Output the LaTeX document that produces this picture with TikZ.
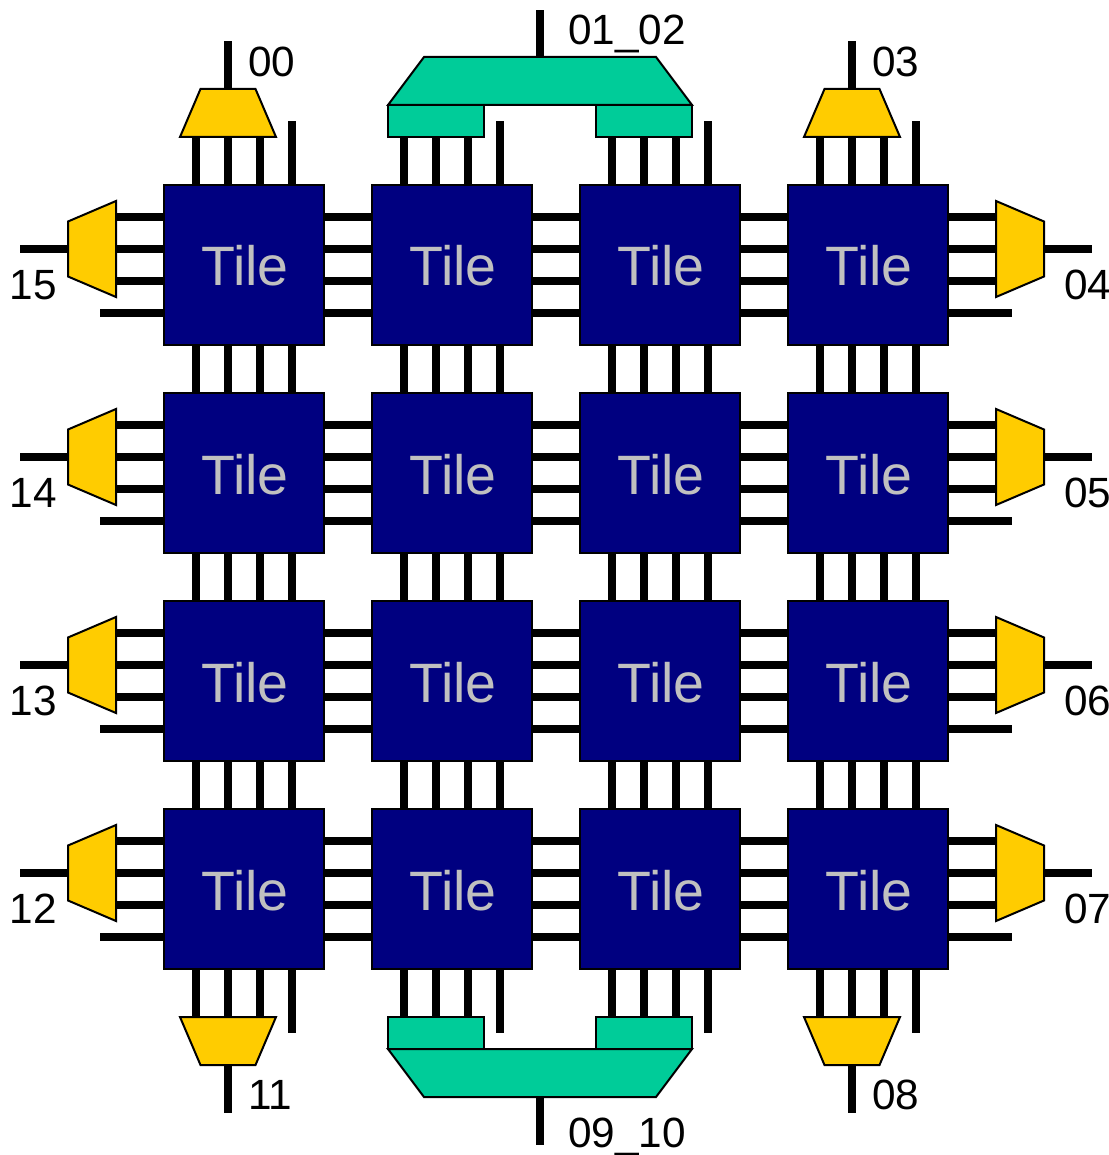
\documentclass[tikz,border=0pt]{standalone}
\usepackage{fontspec}
\setmainfont{Liberation Sans}
\usetikzlibrary{calc}
\definecolor{tilenavy}{HTML}{000080}
\definecolor{tilegray}{HTML}{C0C0C0}
\definecolor{muxyellow}{HTML}{FFCC00}
\definecolor{muxteal}{HTML}{00CC99}
\tikzset{
  tilebox/.style={draw=black,fill=tilenavy,line width=2pt,minimum size=160pt,inner sep=0pt,outer sep=0pt,text=tilegray,text height=42pt,text depth=0pt,font=\fontsize{55.5}{55.5}\selectfont},
  yellowmux/.style={draw=black,fill=muxyellow,line width=2pt,line join=miter},
  tealmux/.style={draw=black,fill=muxteal,line width=2pt,line join=miter},
  tealbox/.style={rectangle,draw=black,fill=muxteal,line width=2pt,minimum width=96pt,minimum height=32pt,inner sep=0pt,outer sep=0pt},
  wire/.style={line width=8pt,line cap=butt,draw=black},
  lab/.style={anchor=base west,inner sep=0pt,outer sep=0pt,font=\fontsize{42.3}{42.3}\selectfont}
}
% #1 scope options, #2 name: yellow multiplexer, wide side local south
\newcommand{\yellowmuxat}[2]{%
  \begin{scope}[#1]
    \path[yellowmux] (-48,-24) -- (48,-24) -- (27.5,24) -- (-27.5,24) -- cycle;
    \coordinate (#2-wide) at (0,-24);
    \coordinate (#2-narrow) at (0,24);
  \end{scope}}
\newcommand{\tealmuxat}[2]{%
  \begin{scope}[#1]
    \path[tealmux] (-152,-24) -- (152,-24) -- (116,24) -- (-116,24) -- cycle;
    \coordinate (#2-narrow) at (0,24);
  \end{scope}}
\begin{document}
\begin{tikzpicture}[x=1pt,y=1pt]
\useasboundingbox (0,0) rectangle (1108,-1155);
% tiles
\foreach \r in {0,1,2,3}{\foreach \c in {0,1,2,3}{
  \node[tilebox] (t\r\c) at ({244+208*\c},{-265-208*\r}) {\kern2pt Tile};
}}
% side multiplexers
\foreach \r in {0,1,2,3}{
  \yellowmuxat{shift={(92,{-249-208*\r})},rotate=90}{left\r}
  \yellowmuxat{shift={(1020,{-249-208*\r})},rotate=-90}{right\r}
}
% top / bottom multiplexers
\yellowmuxat{shift={(228,-113)}}{top0}
\yellowmuxat{shift={(852,-113)}}{top3}
\yellowmuxat{shift={(228,-1041)},rotate=180}{bot0}
\yellowmuxat{shift={(852,-1041)},rotate=180}{bot3}
\tealmuxat{shift={(540,-81)}}{tmerge}
\node[tealbox] (top1) at (436,-121) {};
\node[tealbox] (top2) at (644,-121) {};
\coordinate (top1-wide) at (top1.south);
\coordinate (top2-wide) at (top2.south);
\tealmuxat{shift={(540,-1073)},rotate=180}{bmerge}
\node[tealbox] (bot1) at (436,-1033) {};
\node[tealbox] (bot2) at (644,-1033) {};
\coordinate (bot1-wide) at (bot1.north);
\coordinate (bot2-wide) at (bot2.north);
% wires between tiles
\foreach \s in {-48,-16,16,48}{
  \foreach \c in {0,1,2,3}{
    \foreach \r/\n in {0/1,1/2,2/3}{
      \draw[wire] ([xshift=\s pt]t\r\c.south) -- ([xshift=\s pt]t\n\c.north);
    }
  }
  \foreach \r in {0,1,2,3}{
    \foreach \c/\n in {0/1,1/2,2/3}{
      \draw[wire] ([yshift=\s pt]t\r\c.east) -- ([yshift=\s pt]t\r\n.west);
    }
  }
}
% wires into multiplexers
\foreach \s in {-48,-16,16}{
  \foreach \c in {0,1,2,3}{
    \draw[wire] ([xshift=\s pt]t0\c.north) -- ([xshift=\s pt]t0\c.north |- top\c-wide);
    \draw[wire] ([xshift=\s pt]t3\c.south) -- ([xshift=\s pt]t3\c.south |- bot\c-wide);
  }
}
\foreach \s in {48,16,-16}{
  \foreach \r in {0,1,2,3}{
    \draw[wire] ([yshift=\s pt]t\r0.west) -- ([yshift=\s pt]t\r0.west -| left\r-wide);
    \draw[wire] ([yshift=\s pt]t\r3.east) -- ([yshift=\s pt]t\r3.east -| right\r-wide);
  }
}
% free stubs
\foreach \c in {0,1,2,3}{
  \draw[wire] ([xshift=48pt]t0\c.north) -- ([xshift=48pt,yshift=64pt]t0\c.north);
  \draw[wire] ([xshift=48pt]t3\c.south) -- ([xshift=48pt,yshift=-64pt]t3\c.south);
}
\foreach \r in {0,1,2,3}{
  \draw[wire] ([yshift=-48pt]t\r0.west) -- ([xshift=-64pt,yshift=-48pt]t\r0.west);
  \draw[wire] ([yshift=-48pt]t\r3.east) -- ([xshift=64pt,yshift=-48pt]t\r3.east);
  \draw[wire] (left\r-narrow) -- ([xshift=-48pt]left\r-narrow);
  \draw[wire] (right\r-narrow) -- ([xshift=48pt]right\r-narrow);
}
% outputs
\draw[wire] (top0-narrow) -- ([yshift=48pt]top0-narrow);
\draw[wire] (top3-narrow) -- ([yshift=48pt]top3-narrow);
\draw[wire] (bot0-narrow) -- ([yshift=-48pt]bot0-narrow);
\draw[wire] (bot3-narrow) -- ([yshift=-48pt]bot3-narrow);
\draw[wire] (tmerge-narrow) -- ([yshift=47pt]tmerge-narrow);
\draw[wire] (bmerge-narrow) -- ([yshift=-48pt]bmerge-narrow);
% labels
\node[lab] (l00) at (248,-76.5) {00};
\node[lab] (l03) at (872,-76.5) {03};
\node[lab] (l0102) at (568,-44.5) {01\_02};
\node[lab] (l11) at (248,-1109.5) {11};
\node[lab] (l08) at (872,-1109.5) {08};
\node[lab] (l0910) at (568,-1147.5) {09\_10};
\foreach \r/\a/\b in {0/15/04,1/14/05,2/13/06,3/12/07}{
  \node[lab] (ll\a) at (9.5,{-299.5-208*\r}) {\a};
  \node[lab] (lr\b) at (1064,{-299.5-208*\r}) {\b};
}
\end{tikzpicture}
\end{document}
